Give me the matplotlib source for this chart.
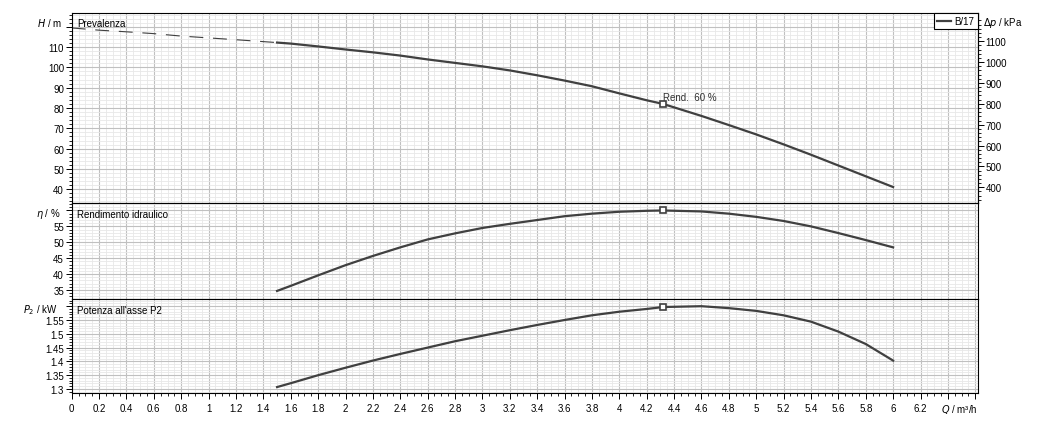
"""Pump performance curves (head, efficiency, shaft power) for B/17."""

import matplotlib
matplotlib.use("Agg")
import matplotlib.pyplot as plt
import numpy as np

plt.rcParams["font.family"] = ["Liberation Sans", "DejaVu Sans"]
plt.rcParams["font.size"] = 7
plt.rcParams["mathtext.fontset"] = "dejavusans"

# ---- data ------------------------------------------------------------------
# dashed extrapolation of the head curve
q_ext = [0.0, 0.2, 0.4, 0.6, 0.8, 1.0, 1.2, 1.5]
h_ext = [119.4, 118.3, 117.5, 116.6, 115.4, 114.5, 113.6, 112.2]

q_h = [1.5, 1.6, 1.8, 2.0, 2.2, 2.4, 2.6, 2.8, 3.0, 3.2, 3.4, 3.6, 3.8, 4.0,
       4.2, 4.32, 4.6, 4.8, 5.0, 5.2, 5.4, 5.6, 5.8, 6.0]
head = [112.2, 111.7, 110.3, 108.8, 107.4, 105.8, 103.9, 102.2, 100.5, 98.5,
        96.1, 93.5, 90.7, 87.2, 83.8, 82.0, 76.1, 71.6, 67.0, 62.1, 57.0,
        51.7, 46.4, 41.1]

q_eta = q_h
eta = [34.7, 36.3, 39.6, 42.8, 45.7, 48.4, 50.9, 52.8, 54.5, 55.8, 57.0, 58.2,
       59.0, 59.6, 59.9, 60.0, 59.7, 59.0, 58.0, 56.7, 55.0, 52.9, 50.7, 48.4]

q_p = q_h
power = [1.307, 1.321, 1.350, 1.377, 1.403, 1.427, 1.450, 1.473, 1.493, 1.513,
         1.532, 1.550, 1.567, 1.580, 1.590, 1.597, 1.600, 1.593, 1.583, 1.567,
         1.544, 1.508, 1.463, 1.403]

# duty point (best efficiency)
q_duty = 4.32
h_duty = 82.0
eta_duty = 60.0
p_duty = 1.597
duty_label = "Rend.  60 %"

pump_name = "B/17"
KPA_PER_M = 9.75

x_major = np.arange(0, 6.61, 0.2)
x_labels = [f"{v:g}" if v < 6.3 else "" for v in np.round(x_major, 1)]

# ---- styling ---------------------------------------------------------------
CURVE = "#404040"
GRID_MAJ = "#c0c0c0"
GRID_MIN = "#e8e8e8"
W_PX, H_PX = 1050, 427


def px_box(x0, y0, x1, y1):
    return [x0 / W_PX, 1 - y1 / H_PX, (x1 - x0) / W_PX, (y1 - y0) / H_PX]


fig = plt.figure(figsize=(W_PX / 100, H_PX / 100), dpi=100)
ax_h = fig.add_axes(px_box(71.7, 13.5, 978, 204.3))
ax_e = fig.add_axes(px_box(71.7, 204.3, 978, 300.3), sharex=ax_h)
ax_p = fig.add_axes(px_box(71.7, 300.3, 978, 394), sharex=ax_h)


def style(ax, ylim, ymaj, ymin, ylabels):
    ax.set_xlim(0, 6.62)
    ax.set_ylim(*ylim)
    ax.set_xticks(x_major)
    ax.set_xticks(np.arange(0, 6.62, 0.05), minor=True)
    ax.set_yticks(ymaj)
    ax.set_yticklabels(ylabels)
    ax.set_yticks(ymin, minor=True)
    ax.set_axisbelow(True)
    ax.grid(which="minor", color=GRID_MIN, lw=0.6)
    ax.grid(which="major", color=GRID_MAJ, lw=0.8)
    ax.tick_params(axis="y", which="major", length=4, width=0.7, pad=1.5)
    ax.tick_params(axis="y", which="minor", length=2.2, width=0.6)
    for s in ax.spines.values():
        s.set_color("black")
        s.set_linewidth(0.8)


h_ticks = np.arange(40, 121, 10)
style(ax_h, (33.1, 127), h_ticks, np.arange(34, 127, 2),
      [f"{v:g}" for v in h_ticks[:-1]] + [""])
e_ticks = np.arange(35, 61, 5)
style(ax_e, (32.07, 62.26), e_ticks, np.arange(33, 63, 1),
      [f"{v:g}" for v in e_ticks[:-1]] + [""])
p_ticks = np.round(np.arange(1.30, 1.601, 0.05), 2)
style(ax_p, (1.2855, 1.625), p_ticks, np.round(np.arange(1.29, 1.625, 0.01), 2),
      [f"{v:g}" for v in p_ticks[:-1]] + [""])

for ax in (ax_h, ax_e):
    ax.tick_params(axis="x", which="both", length=0, labelbottom=False)
ax_p.set_xticklabels(x_labels)
ax_p.tick_params(axis="x", which="major", length=4, width=0.7, pad=3)
ax_p.tick_params(axis="x", which="minor", length=2.2, width=0.6)

# ---- curves ----------------------------------------------------------------
ax_h.plot(q_ext, h_ext, color=CURVE, lw=0.8, ls=(0, (12.5, 8.75)))
ax_h.plot(q_h, head, color=CURVE, lw=1.6, label=pump_name)
ax_e.plot(q_eta, eta, color=CURVE, lw=1.6)
ax_p.plot(q_p, power, color=CURVE, lw=1.6)

mk = dict(marker="s", ms=4.5, mfc="white", mec=CURVE, mew=1.2, ls="none", zorder=5)
ax_h.plot([q_duty], [h_duty], **mk)
ax_e.plot([q_duty], [eta_duty], **mk)
ax_p.plot([q_duty], [p_duty], **mk)
ax_h.annotate(duty_label, (q_duty, h_duty), xytext=(0, 5), textcoords="offset points",
              ha="left", va="center", color="#303030")

# panel titles
for ax, title in ((ax_h, "Prevalenza"), (ax_e, "Rendimento idraulico"),
                  (ax_p, "Potenza all'asse P2")):
    ax.annotate(title, (0, 1), xycoords="axes fraction", xytext=(4, -7.5),
                textcoords="offset points", ha="left", va="center")

leg = ax_h.legend(loc="upper right", borderaxespad=0, fancybox=False,
                  edgecolor="black", framealpha=1, handlelength=1.4,
                  handletextpad=0.4, borderpad=0.35)
leg.get_frame().set_linewidth(0.8)

# pressure scale on the right of the head panel
sec = ax_h.secondary_yaxis("right", functions=(lambda h: h * KPA_PER_M,
                                                lambda p: p / KPA_PER_M))
sec.set_yticks(np.arange(400, 1101, 100))
sec.set_yticks(np.arange(340, 1220, 20), minor=True)
sec.tick_params(which="major", length=4, width=0.7, pad=1.5)
sec.tick_params(which="minor", length=2.2, width=0.6)

# axis names
fig.text(62 / W_PX, 1 - 23 / H_PX, "$H$ / m", ha="right", va="center")
fig.text(61 / W_PX, 1 - 214 / H_PX, r"$\eta$ / %", ha="right", va="center")
fig.text(58 / W_PX, 1 - 310 / H_PX, "$P_2$ / kW", ha="right", va="center")
fig.text(983 / W_PX, 1 - 23 / H_PX, r"$\Delta p$ / kPa", ha="left", va="center")
fig.text(978 / W_PX, 1 - 410 / H_PX, "$Q$ / m³/h", ha="right", va="center")

fig.savefig("out.png", dpi=100)
